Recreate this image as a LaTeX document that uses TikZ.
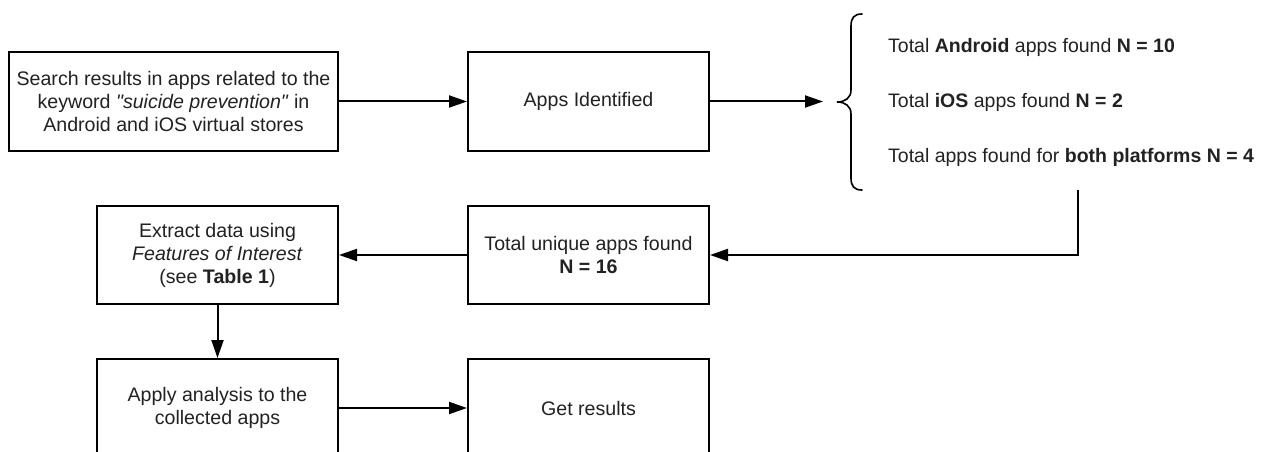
\documentclass[tikz,border=0pt]{standalone}
\usepackage{fontspec}
\setmainfont{Liberation Sans}[Ligatures=TeXOff]
\usetikzlibrary{arrows.meta}
\definecolor{txt}{HTML}{222222}
\tikzset{
  box/.style={draw=black, line width=2pt, fill=white, minimum height=98pt, align=center,
    inner sep=0pt, text=txt, font=\fontsize{19.6}{23}\selectfont},
  wide/.style={minimum width=329pt},
  narrow/.style={minimum width=241pt},
  conn/.style={draw=black, line width=2pt, -{Triangle[length=18pt,width=12pt]}},
  listtext/.style={anchor=west, inner sep=0pt, text=txt, font=\fontsize{19.5}{23}\selectfont},
  bracestyle/.style={draw=black, line width=1.6pt, line cap=round}
}
\begin{document}
\begin{tikzpicture}[x=1pt, y=-1pt]
\useasboundingbox (0,0) rectangle (1262,452);
\clip (0,0) rectangle (1262,452);
\fill[white] (0,0) rectangle (1262,452);

\node[box, wide] (search) at (173.5,101.5) {Search results in apps related to the\\keyword \textit{"suicide prevention"} in\\Android and iOS virtual stores};
\node[box, narrow] (ident) at (588.5,101.5) {Apps Identified};
\node[box, narrow] (extract) at (217.5,255) {Extract data using\\\textit{Features of Interest}\\(see \textbf{Table 1})};
\node[box, narrow] (unique) at (588.5,255) {Total unique apps found\\\textbf{N = 16}};
\node[box, narrow] (apply) at (217.5,408) {Apply analysis to the\\collected apps};
\node[box, narrow] (results) at (588.5,408) {Get results};

\node[listtext] (android) at (888,47) {Total \textbf{Android} apps found \textbf{N = 10}};
\node[listtext] (ios) at (888,102) {Total \textbf{iOS} apps found \textbf{N = 2}};
\node[listtext] (both) at (888,157) {Total apps found for \textbf{both platforms N = 4}};

\coordinate (bracetip) at (837,102);
\coordinate (arrowend) at (823,101.5);
\coordinate (listend) at (1078,190);

\draw[bracestyle] (862,14) .. controls (854,14) and (851,18) .. (851,26) -- (851,90)
  .. controls (851,98) and (845,102) .. (bracetip)
  .. controls (845,102) and (851,106) .. (851,114) -- (851,178)
  .. controls (851,186) and (854,190) .. (862,190);

\draw[conn] (search) -- (ident);
\draw[conn] (ident) -- (arrowend);
\draw[conn] (listend) |- (unique.east);
\draw[conn] (unique) -- (extract);
\draw[conn] (extract) -- (apply);
\draw[conn] (apply) -- (results);
\end{tikzpicture}
\end{document}
